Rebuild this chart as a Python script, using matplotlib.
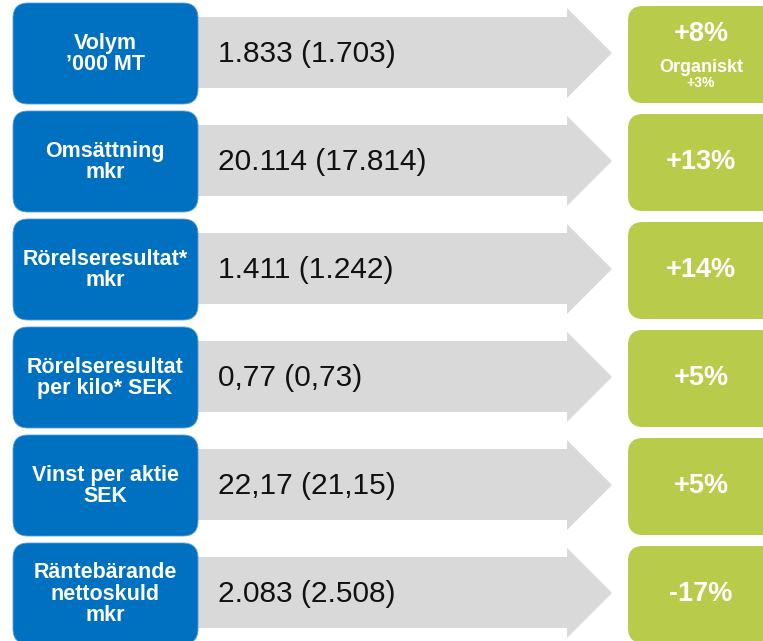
import matplotlib
matplotlib.use("Agg")
import matplotlib.pyplot as plt
from matplotlib.patches import FancyBboxPatch, Polygon

plt.rcParams["font.family"] = ["Liberation Sans", "DejaVu Sans"]

# Data
labels = [
    "Volym\n\u2019000 MT",
    "Oms\u00e4ttning\nmkr",
    "R\u00f6relseresultat*\nmkr",
    "R\u00f6relseresultat\nper kilo* SEK",
    "Vinst per aktie\nSEK",
    "R\u00e4ntebärande\nnettoskuld\nmkr",
]
values = [
    "1.833 (1.703)",
    "20.114 (17.814)",
    "1.411 (1.242)",
    "0,77 (0,73)",
    "22,17 (21,15)",
    "2.083 (2.508)",
]
changes = ["+8%", "+13%", "+14%", "+5%", "+5%", "-17%"]
change_notes = ["Organiskt", "", "", "", "", ""]
change_subnotes = ["+3%", "", "", "", "", ""]

BLUE = "#0070C0"
GRAY = "#D9D9D9"
GREEN = "#B9CB4A"

W, H = 763, 641
fig = plt.figure(figsize=(W / 100, H / 100), dpi=100)
ax = fig.add_axes([0, 0, 1, 1])
ax.set_xlim(0, W)
ax.set_ylim(H, 0)
ax.axis("off")

PITCH = 108
TOP0 = 3

for i, (lab, val, chg) in enumerate(zip(labels, values, changes)):
    top = TOP0 + i * PITCH
    mid = top + 50

    # gray arrow
    arrow = Polygon(
        [(190, top + 14), (567, top + 14), (567, top + 5), (612, mid),
         (567, top + 95), (567, top + 85), (190, top + 85)],
        closed=True, facecolor=GRAY, edgecolor="none", zorder=1)
    ax.add_patch(arrow)

    # blue label box
    r = 15
    box = FancyBboxPatch((13 + r, top + r), 185 - 2 * r, 101 - 2 * r,
                         boxstyle=f"round,pad={r}", facecolor=BLUE,
                         edgecolor="#5a9fd6", linewidth=0.6, zorder=2)
    ax.add_patch(box)
    ax.text(105, mid + 1, lab, color="white", fontsize=15.5, fontweight="bold",
            ha="center", va="center", linespacing=1.02, zorder=3)

    # value text
    ax.text(218, mid + 1, val, color="#111111", fontsize=21.5,
            ha="left", va="center", zorder=3)

    # green change box
    gbox = FancyBboxPatch((628 + r, top + 3 + r), 150 - 2 * r, 97 - 2 * r,
                          boxstyle=f"round,pad={r}", facecolor=GREEN,
                          edgecolor="none", zorder=2)
    ax.add_patch(gbox)
    if change_notes[i]:
        ax.text(701, top + 31, chg, color="white", fontsize=19.5,
                fontweight="bold", ha="center", va="center", zorder=3)
        ax.text(701, top + 65, change_notes[i], color="white", fontsize=13,
                fontweight="bold", ha="center", va="center", zorder=3)
        ax.text(701, top + 80, change_subnotes[i], color="white", fontsize=10,
                fontweight="bold", ha="center", va="center", zorder=3)
    else:
        ax.text(701, mid + 1, chg, color="white", fontsize=19.5,
                fontweight="bold", ha="center", va="center", zorder=3)

fig.savefig("out.png", dpi=100)
